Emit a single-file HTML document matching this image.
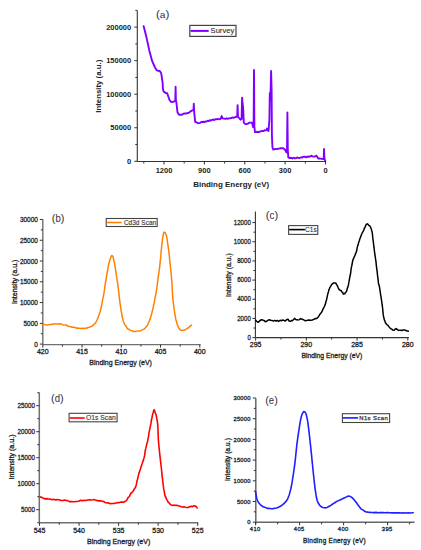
<!DOCTYPE html>
<html><head><meta charset="utf-8"><style>
html,body{margin:0;padding:0;background:#fff;}
svg{display:block;font-family:"Liberation Sans", sans-serif;}
</style></head><body>
<svg width="421" height="550" viewBox="0 0 421 550">
<rect x="0" y="0" width="421" height="550" fill="#fff"/>
<line x1="137.30" y1="10.50" x2="137.30" y2="161.50" stroke="#333" stroke-width="1.1"/>
<line x1="137.30" y1="161.50" x2="326.20" y2="161.50" stroke="#333" stroke-width="1.1"/>
<line x1="134.30" y1="161.30" x2="137.30" y2="161.30" stroke="#333" stroke-width="1"/>
<line x1="134.30" y1="127.75" x2="137.30" y2="127.75" stroke="#333" stroke-width="1"/>
<line x1="134.30" y1="94.20" x2="137.30" y2="94.20" stroke="#333" stroke-width="1"/>
<line x1="134.30" y1="60.65" x2="137.30" y2="60.65" stroke="#333" stroke-width="1"/>
<line x1="134.30" y1="27.10" x2="137.30" y2="27.10" stroke="#333" stroke-width="1"/>
<line x1="135.30" y1="144.53" x2="137.30" y2="144.53" stroke="#333" stroke-width="1"/>
<line x1="135.30" y1="110.98" x2="137.30" y2="110.98" stroke="#333" stroke-width="1"/>
<line x1="135.30" y1="77.43" x2="137.30" y2="77.43" stroke="#333" stroke-width="1"/>
<line x1="135.30" y1="43.88" x2="137.30" y2="43.88" stroke="#333" stroke-width="1"/>
<line x1="135.30" y1="10.33" x2="137.30" y2="10.33" stroke="#333" stroke-width="1"/>
<line x1="325.50" y1="161.50" x2="325.50" y2="164.50" stroke="#333" stroke-width="1"/>
<line x1="285.13" y1="161.50" x2="285.13" y2="164.50" stroke="#333" stroke-width="1"/>
<line x1="244.75" y1="161.50" x2="244.75" y2="164.50" stroke="#333" stroke-width="1"/>
<line x1="204.38" y1="161.50" x2="204.38" y2="164.50" stroke="#333" stroke-width="1"/>
<line x1="164.00" y1="161.50" x2="164.00" y2="164.50" stroke="#333" stroke-width="1"/>
<line x1="305.31" y1="161.50" x2="305.31" y2="163.50" stroke="#333" stroke-width="1"/>
<line x1="264.94" y1="161.50" x2="264.94" y2="163.50" stroke="#333" stroke-width="1"/>
<line x1="224.56" y1="161.50" x2="224.56" y2="163.50" stroke="#333" stroke-width="1"/>
<line x1="184.19" y1="161.50" x2="184.19" y2="163.50" stroke="#333" stroke-width="1"/>
<line x1="143.82" y1="161.50" x2="143.82" y2="163.50" stroke="#333" stroke-width="1"/>
<text x="131.20" y="164.00" font-size="7.5" text-anchor="end" font-weight="bold" fill="#222">0</text>
<text x="131.20" y="130.45" font-size="7.5" text-anchor="end" font-weight="bold" fill="#222">50000</text>
<text x="131.20" y="96.90" font-size="7.5" text-anchor="end" font-weight="bold" fill="#222">100000</text>
<text x="131.20" y="63.35" font-size="7.5" text-anchor="end" font-weight="bold" fill="#222">150000</text>
<text x="131.20" y="29.80" font-size="7.5" text-anchor="end" font-weight="bold" fill="#222">200000</text>
<text x="325.50" y="173.00" font-size="7.5" text-anchor="middle" font-weight="bold" fill="#222">0</text>
<text x="285.13" y="173.00" font-size="7.5" text-anchor="middle" font-weight="bold" fill="#222">300</text>
<text x="244.75" y="173.00" font-size="7.5" text-anchor="middle" font-weight="bold" fill="#222">600</text>
<text x="204.38" y="173.00" font-size="7.5" text-anchor="middle" font-weight="bold" fill="#222">900</text>
<text x="164.00" y="173.00" font-size="7.5" text-anchor="middle" font-weight="bold" fill="#222">1200</text>
<text x="231.20" y="186.70" font-size="7.8" text-anchor="middle" font-weight="bold" fill="#222" textLength="76.00" lengthAdjust="spacingAndGlyphs">Binding Energy (eV)</text>
<text x="101.20" y="86.20" font-size="7.8" text-anchor="middle" font-weight="bold" fill="#222" textLength="53.00" lengthAdjust="spacingAndGlyphs" transform="rotate(-90 101.20 86.20)">Intensity (a.u.)</text>
<text x="156.00" y="18.30" font-size="11.2" fill="#30303c" textLength="13.40" lengthAdjust="spacingAndGlyphs">(<tspan font-size="9.8">a</tspan>)</text>
<rect x="189.8" y="25.4" width="46.2" height="11" fill="#fff" stroke="#444" stroke-width="1.2"/>
<line x1="190.50" y1="30.90" x2="208.70" y2="30.90" stroke="#8000ff" stroke-width="2"/>
<text x="210.60" y="33.20" font-size="7.6" text-anchor="start" font-weight="normal" fill="#333" stroke="#333" stroke-width="0.12" textLength="23.60" lengthAdjust="spacingAndGlyphs">Survey</text>
<polyline points="143.60,26.10 146.40,37.10 149.30,50.40 152.10,60.90 155.00,67.50 156.90,70.40 158.30,70.81 159.70,71.00 161.20,73.20 162.60,82.70 162.90,88.60 163.50,91.30 164.80,92.40 166.00,93.07 167.20,93.30 169.50,100.00 171.00,101.90 172.10,101.97 173.20,101.90 174.30,101.30 175.30,100.50 175.60,86.70 175.90,100.90 176.20,101.00 177.50,112.30 179.00,114.80 180.27,114.82 181.53,114.78 182.80,114.20 183.92,113.46 185.03,113.54 186.15,113.65 187.27,113.07 188.38,112.98 189.50,112.30 190.43,111.32 191.37,111.01 192.30,110.40 193.50,110.00 193.80,103.80 194.20,112.30 195.20,121.80 196.60,122.32 198.00,123.30 199.09,123.07 200.17,122.82 201.26,122.05 202.34,121.96 203.43,121.74 204.51,122.05 205.60,121.40 206.68,121.43 207.76,120.67 208.84,121.04 209.92,120.23 211.00,120.46 212.08,119.80 213.16,119.48 214.24,120.05 215.32,119.25 216.40,119.30 217.80,118.88 219.20,119.40 220.60,118.80 221.70,116.10 222.60,118.40 224.00,118.60 225.20,118.88 226.40,118.29 227.60,118.84 228.80,118.40 230.00,118.30 231.16,118.16 232.32,117.43 233.48,117.80 234.64,117.27 235.80,116.80 237.20,116.50 237.60,105.10 238.00,117.00 238.70,117.50 240.50,119.70 241.60,119.00 242.10,97.60 242.60,104.00 243.10,106.60 243.80,122.60 245.30,124.10 246.58,124.14 247.85,123.70 249.12,122.79 250.40,122.60 252.10,122.60 253.00,127.00 253.60,127.00 254.00,69.90 254.40,127.00 255.00,132.10 256.37,131.98 257.73,131.80 259.10,132.10 260.24,131.47 261.39,131.08 262.53,130.98 263.67,130.94 264.81,130.08 265.96,130.37 267.10,129.90 267.00,128.40 268.50,131.00 269.40,120.00 269.80,93.00 270.40,100.00 271.10,70.90 271.60,90.00 271.90,135.00 272.20,142.00 272.50,147.70 273.30,149.60 274.55,149.20 275.80,148.93 277.05,149.14 278.30,148.60 279.55,148.48 280.80,148.23 282.05,148.28 283.30,148.20 284.15,149.08 285.00,149.60 286.30,152.40 287.00,152.50 287.40,112.50 287.80,150.00 288.30,157.40 289.90,158.20 291.10,157.76 292.30,158.54 293.50,157.64 294.70,158.25 295.90,158.30 297.10,157.51 298.30,157.90 299.46,158.02 300.62,157.50 301.78,157.55 302.94,156.90 304.10,156.79 305.26,156.77 306.42,157.33 307.58,156.51 308.74,156.87 309.90,156.50 311.20,155.70 312.43,156.35 313.67,156.63 314.90,156.50 316.50,155.70 318.20,158.50 319.45,158.48 320.70,158.62 321.95,158.90 323.20,159.00 323.70,159.00 324.00,149.00 324.50,159.00 325.20,160.70" fill="none" stroke="#8000ff" stroke-width="1.9" stroke-linejoin="round" stroke-linecap="round"/>
<line x1="42.80" y1="219.30" x2="42.80" y2="344.60" stroke="#707070" stroke-width="1.4"/>
<line x1="42.80" y1="344.60" x2="200.60" y2="344.60" stroke="#707070" stroke-width="1.4"/>
<line x1="39.80" y1="344.10" x2="42.80" y2="344.10" stroke="#333" stroke-width="1"/>
<line x1="39.80" y1="323.33" x2="42.80" y2="323.33" stroke="#333" stroke-width="1"/>
<line x1="39.80" y1="302.56" x2="42.80" y2="302.56" stroke="#333" stroke-width="1"/>
<line x1="39.80" y1="281.79" x2="42.80" y2="281.79" stroke="#333" stroke-width="1"/>
<line x1="39.80" y1="261.02" x2="42.80" y2="261.02" stroke="#333" stroke-width="1"/>
<line x1="39.80" y1="240.25" x2="42.80" y2="240.25" stroke="#333" stroke-width="1"/>
<line x1="39.80" y1="219.48" x2="42.80" y2="219.48" stroke="#333" stroke-width="1"/>
<line x1="40.80" y1="333.72" x2="42.80" y2="333.72" stroke="#333" stroke-width="1"/>
<line x1="40.80" y1="312.95" x2="42.80" y2="312.95" stroke="#333" stroke-width="1"/>
<line x1="40.80" y1="292.18" x2="42.80" y2="292.18" stroke="#333" stroke-width="1"/>
<line x1="40.80" y1="271.41" x2="42.80" y2="271.41" stroke="#333" stroke-width="1"/>
<line x1="40.80" y1="250.64" x2="42.80" y2="250.64" stroke="#333" stroke-width="1"/>
<line x1="40.80" y1="229.87" x2="42.80" y2="229.87" stroke="#333" stroke-width="1"/>
<line x1="42.80" y1="344.60" x2="42.80" y2="347.60" stroke="#333" stroke-width="1"/>
<line x1="82.05" y1="344.60" x2="82.05" y2="347.60" stroke="#333" stroke-width="1"/>
<line x1="121.30" y1="344.60" x2="121.30" y2="347.60" stroke="#333" stroke-width="1"/>
<line x1="160.55" y1="344.60" x2="160.55" y2="347.60" stroke="#333" stroke-width="1"/>
<line x1="199.80" y1="344.60" x2="199.80" y2="347.60" stroke="#333" stroke-width="1"/>
<line x1="62.42" y1="344.60" x2="62.42" y2="346.60" stroke="#333" stroke-width="1"/>
<line x1="101.67" y1="344.60" x2="101.67" y2="346.60" stroke="#333" stroke-width="1"/>
<line x1="140.93" y1="344.60" x2="140.93" y2="346.60" stroke="#333" stroke-width="1"/>
<line x1="180.18" y1="344.60" x2="180.18" y2="346.60" stroke="#333" stroke-width="1"/>
<text x="37.90" y="346.80" font-size="7.5" text-anchor="end" font-weight="normal" fill="#222" stroke="#222" stroke-width="0.3" textLength="3.60" lengthAdjust="spacingAndGlyphs">0</text>
<text x="37.90" y="326.03" font-size="7.5" text-anchor="end" font-weight="normal" fill="#222" stroke="#222" stroke-width="0.3" textLength="14.40" lengthAdjust="spacingAndGlyphs">5000</text>
<text x="37.90" y="305.26" font-size="7.5" text-anchor="end" font-weight="normal" fill="#222" stroke="#222" stroke-width="0.3" textLength="18.00" lengthAdjust="spacingAndGlyphs">10000</text>
<text x="37.90" y="284.49" font-size="7.5" text-anchor="end" font-weight="normal" fill="#222" stroke="#222" stroke-width="0.3" textLength="18.00" lengthAdjust="spacingAndGlyphs">15000</text>
<text x="37.90" y="263.72" font-size="7.5" text-anchor="end" font-weight="normal" fill="#222" stroke="#222" stroke-width="0.3" textLength="18.00" lengthAdjust="spacingAndGlyphs">20000</text>
<text x="37.90" y="242.95" font-size="7.5" text-anchor="end" font-weight="normal" fill="#222" stroke="#222" stroke-width="0.3" textLength="18.00" lengthAdjust="spacingAndGlyphs">25000</text>
<text x="37.90" y="222.18" font-size="7.5" text-anchor="end" font-weight="normal" fill="#222" stroke="#222" stroke-width="0.3" textLength="18.00" lengthAdjust="spacingAndGlyphs">30000</text>
<text x="42.80" y="353.50" font-size="7.5" text-anchor="middle" font-weight="normal" fill="#222" stroke="#222" stroke-width="0.3" textLength="11.70" lengthAdjust="spacingAndGlyphs">420</text>
<text x="82.05" y="353.50" font-size="7.5" text-anchor="middle" font-weight="normal" fill="#222" stroke="#222" stroke-width="0.3" textLength="11.70" lengthAdjust="spacingAndGlyphs">415</text>
<text x="121.30" y="353.50" font-size="7.5" text-anchor="middle" font-weight="normal" fill="#222" stroke="#222" stroke-width="0.3" textLength="11.70" lengthAdjust="spacingAndGlyphs">410</text>
<text x="160.55" y="353.50" font-size="7.5" text-anchor="middle" font-weight="normal" fill="#222" stroke="#222" stroke-width="0.3" textLength="11.70" lengthAdjust="spacingAndGlyphs">405</text>
<text x="199.80" y="353.50" font-size="7.5" text-anchor="middle" font-weight="normal" fill="#222" stroke="#222" stroke-width="0.3" textLength="11.70" lengthAdjust="spacingAndGlyphs">400</text>
<text x="120.60" y="365.30" font-size="7.5" text-anchor="middle" font-weight="normal" fill="#222" stroke="#222" stroke-width="0.3" textLength="62.60" lengthAdjust="spacingAndGlyphs">Binding Energy (eV)</text>
<text x="17.40" y="281.80" font-size="7.2" text-anchor="middle" font-weight="normal" fill="#222" stroke="#222" stroke-width="0.3" textLength="44.40" lengthAdjust="spacingAndGlyphs" transform="rotate(-90 17.40 281.80)">Intensity (a.u.)</text>
<text x="51.80" y="221.80" font-size="11.8" fill="#30303c" textLength="12.60" lengthAdjust="spacingAndGlyphs">(<tspan font-size="10.4">b</tspan>)</text>
<rect x="106.2" y="218.5" width="51" height="8" fill="#fff" stroke="#444" stroke-width="1.1"/>
<line x1="106.80" y1="222.50" x2="121.60" y2="222.50" stroke="#ff8000" stroke-width="1.6"/>
<text x="123.90" y="225.00" font-size="7" text-anchor="start" font-weight="normal" fill="#333" stroke="#333" stroke-width="0.12" textLength="32.30" lengthAdjust="spacingAndGlyphs">Cd3d Scan</text>
<polyline points="42.90,324.20 44.23,324.48 45.57,324.80 47.28,325.09 48.62,324.66 49.93,324.57 51.64,324.42 53.00,323.98 54.55,324.02 56.15,323.93 57.52,324.02 58.97,323.73 60.35,324.11 61.73,324.14 63.17,324.89 64.69,325.12 66.00,324.98 67.60,326.06 69.33,326.52 70.89,326.75 72.23,327.16 73.54,327.24 74.98,327.50 76.50,328.18 78.00,328.09 79.44,328.33 80.86,328.43 82.27,328.25 83.64,328.46 85.03,328.25 86.49,328.21 88.02,327.56 89.40,327.20 90.81,326.59 92.00,326.11 93.14,325.18 94.20,324.04 95.22,323.27 95.96,322.15 96.67,320.77 97.36,319.24 98.00,317.47 98.59,315.91 99.15,314.41 99.67,312.69 100.12,311.77 100.61,309.73 101.01,308.27 101.49,305.59 101.75,304.70 102.01,303.31 102.25,301.43 102.70,299.30 103.07,297.98 103.40,296.13 103.70,294.99 104.00,292.93 104.27,290.89 104.52,289.40 104.78,287.50 105.10,284.94 105.51,282.26 105.75,281.03 105.99,280.04 106.23,278.47 106.47,276.64 106.69,275.42 107.09,273.02 107.43,270.97 107.75,269.66 108.05,267.56 108.35,266.30 108.61,264.89 109.01,262.94 109.46,261.56 109.97,259.31 110.52,258.04 111.08,256.42 111.84,255.45 112.82,256.29 113.25,257.81 113.69,259.85 114.11,261.45 114.42,262.67 114.80,265.27 115.03,266.22 115.27,267.91 115.51,269.88 115.76,271.38 115.99,272.60 116.21,274.68 116.56,276.46 116.84,278.27 117.07,280.09 117.29,281.16 117.51,282.56 117.79,284.25 117.98,285.57 118.20,287.56 118.46,289.47 118.74,292.22 118.88,293.35 119.17,295.92 119.43,298.50 119.68,300.21 119.92,302.22 120.17,304.32 120.43,305.71 120.70,307.53 120.98,309.85 121.26,311.50 121.54,312.73 121.83,314.23 122.13,316.09 122.44,317.63 122.76,318.45 123.09,320.25 123.62,321.98 124.20,323.38 124.86,324.65 125.56,325.65 126.43,326.97 127.44,328.74 128.71,329.12 130.39,330.36 132.10,330.73 133.67,331.47 135.25,331.40 137.02,331.12 138.36,330.94 139.74,331.13 141.08,330.34 142.30,329.91 143.47,329.35 144.58,328.64 145.57,327.53 146.72,326.01 147.55,325.22 148.30,323.29 149.09,321.44 149.59,320.35 150.07,319.15 150.53,317.50 150.97,316.13 151.39,314.76 151.80,313.35 152.20,311.43 152.59,309.89 152.96,308.51 153.32,306.86 153.67,305.01 154.01,303.49 154.33,301.89 154.64,300.04 154.96,298.34 155.28,296.56 155.59,295.41 155.87,293.64 156.11,292.54 156.44,290.26 156.70,289.10 156.93,287.28 157.19,285.42 157.45,282.99 157.70,281.45 157.93,278.97 158.15,277.52 158.37,275.91 158.60,274.28 158.84,272.56 159.07,271.04 159.33,269.43 159.60,267.39 159.75,265.69 159.90,264.46 160.07,263.05 160.23,261.38 160.40,259.37 160.57,257.92 160.74,256.29 160.90,254.45 161.06,252.85 161.23,250.98 161.40,249.39 161.57,247.69 161.73,245.66 161.90,244.46 162.05,243.25 162.20,241.87 162.47,239.60 162.71,237.64 162.95,236.45 163.20,235.06 163.61,233.18 164.02,232.15 165.12,232.51 165.81,234.30 166.42,235.32 166.81,237.69 167.03,238.94 167.27,240.29 167.52,242.28 167.77,243.89 168.02,245.78 168.27,247.81 168.50,249.13 168.72,250.74 168.94,252.79 169.16,254.94 169.38,256.54 169.59,258.46 169.79,260.92 170.00,262.69 170.20,264.46 170.40,266.67 170.60,268.15 170.80,270.26 170.99,271.81 171.18,273.86 171.36,276.05 171.54,278.08 171.70,280.07 171.85,281.84 171.98,284.23 172.11,286.36 172.22,288.56 172.34,291.10 172.45,293.52 172.57,295.55 172.70,297.25 172.83,298.98 172.97,299.89 173.24,302.17 173.52,304.42 173.80,306.34 174.07,308.38 174.34,310.50 174.62,312.52 174.90,314.20 175.19,315.74 175.49,317.68 175.79,319.26 176.10,320.27 176.41,321.29 176.89,323.01 177.40,325.16 177.97,325.97 178.58,327.64 179.39,328.89 180.21,329.74 181.58,330.61 182.99,330.15 184.50,329.95 186.10,329.33 187.21,328.26 188.70,327.73 189.98,326.36 191.03,325.43 191.50,325.30" fill="none" stroke="#ff8000" stroke-width="1.5" stroke-linejoin="round" stroke-linecap="round"/>
<line x1="255.40" y1="211.40" x2="255.40" y2="337.60" stroke="#333" stroke-width="1.1"/>
<line x1="255.40" y1="337.60" x2="408.80" y2="337.60" stroke="#333" stroke-width="1.1"/>
<line x1="252.40" y1="337.60" x2="255.40" y2="337.60" stroke="#333" stroke-width="1"/>
<line x1="252.40" y1="318.43" x2="255.40" y2="318.43" stroke="#333" stroke-width="1"/>
<line x1="252.40" y1="299.26" x2="255.40" y2="299.26" stroke="#333" stroke-width="1"/>
<line x1="252.40" y1="280.09" x2="255.40" y2="280.09" stroke="#333" stroke-width="1"/>
<line x1="252.40" y1="260.92" x2="255.40" y2="260.92" stroke="#333" stroke-width="1"/>
<line x1="252.40" y1="241.75" x2="255.40" y2="241.75" stroke="#333" stroke-width="1"/>
<line x1="252.40" y1="222.58" x2="255.40" y2="222.58" stroke="#333" stroke-width="1"/>
<line x1="253.40" y1="328.02" x2="255.40" y2="328.02" stroke="#333" stroke-width="1"/>
<line x1="253.40" y1="308.85" x2="255.40" y2="308.85" stroke="#333" stroke-width="1"/>
<line x1="253.40" y1="289.68" x2="255.40" y2="289.68" stroke="#333" stroke-width="1"/>
<line x1="253.40" y1="270.50" x2="255.40" y2="270.50" stroke="#333" stroke-width="1"/>
<line x1="253.40" y1="251.34" x2="255.40" y2="251.34" stroke="#333" stroke-width="1"/>
<line x1="253.40" y1="232.17" x2="255.40" y2="232.17" stroke="#333" stroke-width="1"/>
<line x1="255.60" y1="337.60" x2="255.60" y2="340.60" stroke="#333" stroke-width="1"/>
<line x1="306.33" y1="337.60" x2="306.33" y2="340.60" stroke="#333" stroke-width="1"/>
<line x1="357.07" y1="337.60" x2="357.07" y2="340.60" stroke="#333" stroke-width="1"/>
<line x1="407.81" y1="337.60" x2="407.81" y2="340.60" stroke="#333" stroke-width="1"/>
<line x1="280.97" y1="337.60" x2="280.97" y2="339.60" stroke="#333" stroke-width="1"/>
<line x1="331.70" y1="337.60" x2="331.70" y2="339.60" stroke="#333" stroke-width="1"/>
<line x1="382.44" y1="337.60" x2="382.44" y2="339.60" stroke="#333" stroke-width="1"/>
<text x="250.80" y="339.70" font-size="7.5" text-anchor="end" font-weight="normal" fill="#222" stroke="#222" stroke-width="0.3" textLength="3.40" lengthAdjust="spacingAndGlyphs">0</text>
<text x="250.80" y="320.53" font-size="7.5" text-anchor="end" font-weight="normal" fill="#222" stroke="#222" stroke-width="0.3" textLength="13.60" lengthAdjust="spacingAndGlyphs">2000</text>
<text x="250.80" y="301.36" font-size="7.5" text-anchor="end" font-weight="normal" fill="#222" stroke="#222" stroke-width="0.3" textLength="13.60" lengthAdjust="spacingAndGlyphs">4000</text>
<text x="250.80" y="282.19" font-size="7.5" text-anchor="end" font-weight="normal" fill="#222" stroke="#222" stroke-width="0.3" textLength="13.60" lengthAdjust="spacingAndGlyphs">6000</text>
<text x="250.80" y="263.02" font-size="7.5" text-anchor="end" font-weight="normal" fill="#222" stroke="#222" stroke-width="0.3" textLength="13.60" lengthAdjust="spacingAndGlyphs">8000</text>
<text x="250.80" y="243.85" font-size="7.5" text-anchor="end" font-weight="normal" fill="#222" stroke="#222" stroke-width="0.3" textLength="17.00" lengthAdjust="spacingAndGlyphs">10000</text>
<text x="250.80" y="224.68" font-size="7.5" text-anchor="end" font-weight="normal" fill="#222" stroke="#222" stroke-width="0.3" textLength="17.00" lengthAdjust="spacingAndGlyphs">12000</text>
<text x="255.60" y="346.50" font-size="7.5" text-anchor="middle" font-weight="normal" fill="#222" stroke="#222" stroke-width="0.3" textLength="11.70" lengthAdjust="spacingAndGlyphs">295</text>
<text x="306.33" y="346.50" font-size="7.5" text-anchor="middle" font-weight="normal" fill="#222" stroke="#222" stroke-width="0.3" textLength="11.70" lengthAdjust="spacingAndGlyphs">290</text>
<text x="357.07" y="346.50" font-size="7.5" text-anchor="middle" font-weight="normal" fill="#222" stroke="#222" stroke-width="0.3" textLength="11.70" lengthAdjust="spacingAndGlyphs">285</text>
<text x="407.81" y="346.50" font-size="7.5" text-anchor="middle" font-weight="normal" fill="#222" stroke="#222" stroke-width="0.3" textLength="11.70" lengthAdjust="spacingAndGlyphs">280</text>
<text x="331.90" y="357.50" font-size="7.5" text-anchor="middle" font-weight="normal" fill="#222" stroke="#222" stroke-width="0.3" textLength="61.00" lengthAdjust="spacingAndGlyphs">Binding Energy (eV)</text>
<text x="230.70" y="275.10" font-size="7.2" text-anchor="middle" font-weight="normal" fill="#222" stroke="#222" stroke-width="0.3" textLength="43.60" lengthAdjust="spacingAndGlyphs" transform="rotate(-90 230.70 275.10)">Intensity (a.u.)</text>
<text x="265.80" y="218.70" font-size="11.8" fill="#30303c" textLength="12.40" lengthAdjust="spacingAndGlyphs">(<tspan font-size="10.4">c</tspan>)</text>
<rect x="288.6" y="225.6" width="29.2" height="8.8" fill="#fff" stroke="#444" stroke-width="1.1"/>
<line x1="289.20" y1="229.60" x2="304.90" y2="229.60" stroke="#000" stroke-width="1.6"/>
<text x="305.00" y="232.40" font-size="7" text-anchor="start" font-weight="normal" fill="#333" stroke="#333" stroke-width="0.12" textLength="11.70" lengthAdjust="spacingAndGlyphs">C1s</text>
<polyline points="255.70,320.20 256.61,321.21 257.80,322.27 259.13,321.49 260.32,320.19 261.72,319.69 263.15,320.15 264.21,320.63 265.31,321.72 266.53,321.32 267.85,320.35 269.20,319.76 270.58,320.26 271.96,320.43 273.18,321.05 274.51,320.35 275.85,320.97 277.27,320.45 278.50,321.45 280.11,320.34 281.28,320.70 282.80,320.02 283.99,320.41 285.32,321.10 286.72,319.45 288.14,319.32 289.15,321.10 290.21,321.38 291.47,320.51 292.43,320.65 293.37,319.76 294.55,318.37 295.72,319.53 296.76,319.86 298.21,319.88 299.49,319.63 300.57,318.54 301.98,319.31 303.00,319.47 304.20,320.24 305.75,320.92 307.48,320.15 309.13,319.99 310.71,320.21 312.27,319.99 313.88,319.41 314.99,318.54 316.07,318.69 317.10,318.21 318.07,317.31 318.99,315.90 319.87,314.41 320.70,313.25 321.47,312.45 322.19,311.23 322.86,309.37 323.50,308.21 324.11,306.98 324.69,305.71 325.22,304.58 325.70,302.80 326.11,300.86 326.45,300.30 326.77,298.45 327.10,297.12 327.44,295.34 327.78,294.08 328.13,292.60 328.50,291.70 328.90,289.75 329.32,289.11 329.98,287.19 330.65,286.52 331.59,284.54 332.67,283.68 333.59,282.95 334.79,283.02 335.96,283.29 336.80,284.86 337.58,286.19 338.08,287.51 338.80,289.17 339.93,290.16 341.07,290.42 341.80,292.01 342.50,292.13 343.34,294.15 344.70,293.73 345.51,292.52 346.30,291.67 346.79,290.70 347.28,288.37 347.74,287.14 348.20,286.00 348.65,283.54 349.10,281.20 349.52,278.67 349.90,276.59 350.23,275.27 350.52,273.76 350.77,272.04 351.00,270.00 351.23,268.04 351.49,266.87 351.73,266.14 352.00,264.62 352.34,262.67 352.75,260.45 353.29,259.11 353.97,257.44 354.73,255.97 355.47,253.85 356.11,252.72 356.68,250.56 357.22,247.59 357.74,245.64 358.26,244.38 358.78,241.93 359.29,240.98 359.77,238.99 360.21,237.93 360.77,236.61 361.36,234.81 361.87,233.76 362.48,232.36 363.14,231.37 363.80,229.97 364.39,228.06 364.97,227.59 365.53,225.86 366.30,224.32 367.46,223.85 368.78,225.27 369.74,225.85 370.54,227.16 371.19,228.85 371.73,230.61 372.05,231.85 372.31,233.17 372.54,235.26 372.77,237.66 373.04,239.74 373.32,241.88 373.46,242.88 373.61,244.18 373.77,245.89 373.93,247.03 374.10,247.77 374.28,249.92 374.48,251.57 374.69,252.93 374.90,254.54 375.11,256.05 375.32,257.11 375.52,258.83 375.70,259.77 375.87,260.80 376.03,262.39 376.19,263.64 376.34,265.58 376.48,266.55 376.62,267.60 376.90,270.03 377.17,271.74 377.43,274.35 377.68,276.56 377.90,278.08 378.09,279.59 378.25,281.28 378.41,282.56 378.60,284.20 378.93,284.88 379.30,285.98 379.60,287.59 379.96,290.20 380.17,291.59 380.38,292.89 380.60,294.65 380.81,295.47 381.01,296.49 381.20,298.29 381.38,299.44 381.72,301.46 382.05,304.23 382.35,306.09 382.63,308.28 382.75,309.58 382.85,311.48 382.96,311.66 383.19,314.38 383.50,316.36 383.90,318.03 384.36,319.81 384.89,320.94 385.50,322.96 386.21,323.63 387.02,324.84 387.86,325.15 388.70,326.36 389.56,327.42 390.44,328.58 391.66,329.05 392.75,330.11 394.13,330.36 395.01,329.24 396.29,328.61 397.52,329.80 398.81,330.38 400.41,330.17 401.80,330.49 402.93,330.00 404.27,330.02 405.43,330.23 406.74,330.88 408.09,330.97 408.30,331.20" fill="none" stroke="#000" stroke-width="1.5" stroke-linejoin="round" stroke-linecap="round"/>
<line x1="39.30" y1="392.60" x2="39.30" y2="522.80" stroke="#707070" stroke-width="1.5"/>
<line x1="39.30" y1="522.80" x2="198.20" y2="522.80" stroke="#707070" stroke-width="1.5"/>
<line x1="36.30" y1="509.70" x2="39.30" y2="509.70" stroke="#333" stroke-width="1"/>
<line x1="36.30" y1="483.70" x2="39.30" y2="483.70" stroke="#333" stroke-width="1"/>
<line x1="36.30" y1="457.70" x2="39.30" y2="457.70" stroke="#333" stroke-width="1"/>
<line x1="36.30" y1="431.70" x2="39.30" y2="431.70" stroke="#333" stroke-width="1"/>
<line x1="36.30" y1="405.70" x2="39.30" y2="405.70" stroke="#333" stroke-width="1"/>
<line x1="37.30" y1="522.70" x2="39.30" y2="522.70" stroke="#333" stroke-width="1"/>
<line x1="37.30" y1="496.70" x2="39.30" y2="496.70" stroke="#333" stroke-width="1"/>
<line x1="37.30" y1="470.70" x2="39.30" y2="470.70" stroke="#333" stroke-width="1"/>
<line x1="37.30" y1="444.70" x2="39.30" y2="444.70" stroke="#333" stroke-width="1"/>
<line x1="37.30" y1="418.70" x2="39.30" y2="418.70" stroke="#333" stroke-width="1"/>
<line x1="37.30" y1="392.70" x2="39.30" y2="392.70" stroke="#333" stroke-width="1"/>
<line x1="39.50" y1="522.80" x2="39.50" y2="525.80" stroke="#333" stroke-width="1"/>
<line x1="79.05" y1="522.80" x2="79.05" y2="525.80" stroke="#333" stroke-width="1"/>
<line x1="118.60" y1="522.80" x2="118.60" y2="525.80" stroke="#333" stroke-width="1"/>
<line x1="158.15" y1="522.80" x2="158.15" y2="525.80" stroke="#333" stroke-width="1"/>
<line x1="197.70" y1="522.80" x2="197.70" y2="525.80" stroke="#333" stroke-width="1"/>
<line x1="59.27" y1="522.80" x2="59.27" y2="524.80" stroke="#333" stroke-width="1"/>
<line x1="98.83" y1="522.80" x2="98.83" y2="524.80" stroke="#333" stroke-width="1"/>
<line x1="138.38" y1="522.80" x2="138.38" y2="524.80" stroke="#333" stroke-width="1"/>
<line x1="177.93" y1="522.80" x2="177.93" y2="524.80" stroke="#333" stroke-width="1"/>
<text x="35.00" y="512.40" font-size="7.5" text-anchor="end" font-weight="normal" fill="#222" stroke="#222" stroke-width="0.3" textLength="14.00" lengthAdjust="spacingAndGlyphs">5000</text>
<text x="35.00" y="486.40" font-size="7.5" text-anchor="end" font-weight="normal" fill="#222" stroke="#222" stroke-width="0.3" textLength="17.50" lengthAdjust="spacingAndGlyphs">10000</text>
<text x="35.00" y="460.40" font-size="7.5" text-anchor="end" font-weight="normal" fill="#222" stroke="#222" stroke-width="0.3" textLength="17.50" lengthAdjust="spacingAndGlyphs">15000</text>
<text x="35.00" y="434.40" font-size="7.5" text-anchor="end" font-weight="normal" fill="#222" stroke="#222" stroke-width="0.3" textLength="17.50" lengthAdjust="spacingAndGlyphs">20000</text>
<text x="35.00" y="408.40" font-size="7.5" text-anchor="end" font-weight="normal" fill="#222" stroke="#222" stroke-width="0.3" textLength="17.50" lengthAdjust="spacingAndGlyphs">25000</text>
<text x="39.50" y="532.60" font-size="7.5" text-anchor="middle" font-weight="normal" fill="#222" stroke="#222" stroke-width="0.3" textLength="11.70" lengthAdjust="spacingAndGlyphs">545</text>
<text x="79.05" y="532.60" font-size="7.5" text-anchor="middle" font-weight="normal" fill="#222" stroke="#222" stroke-width="0.3" textLength="11.70" lengthAdjust="spacingAndGlyphs">540</text>
<text x="118.60" y="532.60" font-size="7.5" text-anchor="middle" font-weight="normal" fill="#222" stroke="#222" stroke-width="0.3" textLength="11.70" lengthAdjust="spacingAndGlyphs">535</text>
<text x="158.15" y="532.60" font-size="7.5" text-anchor="middle" font-weight="normal" fill="#222" stroke="#222" stroke-width="0.3" textLength="11.70" lengthAdjust="spacingAndGlyphs">530</text>
<text x="197.70" y="532.60" font-size="7.5" text-anchor="middle" font-weight="normal" fill="#222" stroke="#222" stroke-width="0.3" textLength="11.70" lengthAdjust="spacingAndGlyphs">525</text>
<text x="118.70" y="543.50" font-size="7.5" text-anchor="middle" font-weight="normal" fill="#222" stroke="#222" stroke-width="0.3" textLength="63.20" lengthAdjust="spacingAndGlyphs">Binding Energy (eV)</text>
<text x="13.60" y="457.00" font-size="7.2" text-anchor="middle" font-weight="normal" fill="#222" stroke="#222" stroke-width="0.3" textLength="45.00" lengthAdjust="spacingAndGlyphs" transform="rotate(-90 13.60 457.00)">Intensity (a.u.)</text>
<text x="51.00" y="401.80" font-size="11.8" fill="#30303c" textLength="12.60" lengthAdjust="spacingAndGlyphs">(<tspan font-size="10.4">d</tspan>)</text>
<rect x="69.1" y="413.3" width="48" height="8.5" fill="#fff" stroke="#444" stroke-width="1.1"/>
<line x1="69.70" y1="418.00" x2="84.70" y2="418.00" stroke="#ff0000" stroke-width="1.6"/>
<text x="85.90" y="419.60" font-size="7" text-anchor="start" font-weight="normal" fill="#333" stroke="#333" stroke-width="0.12" textLength="29.80" lengthAdjust="spacingAndGlyphs">O1s Scan</text>
<polyline points="40.20,497.10 41.46,497.17 42.84,498.12 44.13,498.60 45.30,499.08 46.64,498.63 48.00,498.90 49.31,498.95 50.64,499.13 52.11,499.80 53.71,499.29 55.41,499.89 57.23,499.66 58.52,499.81 59.82,500.03 61.10,500.57 62.86,500.52 64.63,500.11 66.00,500.55 67.65,500.59 69.49,501.58 71.34,501.67 73.00,501.74 74.40,501.71 75.66,501.49 77.41,501.46 79.14,501.09 80.76,500.31 82.50,500.78 83.78,500.29 85.13,500.51 86.54,500.23 88.00,500.02 89.60,499.90 91.32,499.94 92.98,499.79 94.40,499.58 95.96,500.42 97.17,500.52 98.45,500.89 99.82,500.77 101.11,500.87 102.52,501.48 103.70,501.28 105.01,502.49 106.30,502.74 107.94,502.89 109.22,503.21 110.45,503.77 111.96,503.51 113.23,503.51 114.50,503.42 115.87,502.99 117.25,502.51 118.51,502.73 120.05,502.23 121.25,502.09 122.50,501.96 123.92,502.20 125.00,501.33 125.87,501.00 126.86,500.00 127.86,497.92 128.80,496.94 129.64,496.01 130.44,493.90 131.21,492.91 132.00,492.54 132.83,491.53 133.68,490.31 134.49,488.71 135.20,487.70 135.77,486.65 136.23,484.93 136.66,482.99 137.10,480.47 137.57,479.27 138.05,476.73 138.53,475.14 139.00,472.70 139.47,472.05 139.95,470.24 140.43,469.02 140.90,467.08 141.38,466.09 141.87,464.60 142.35,463.18 142.80,461.55 143.24,460.66 143.66,459.02 144.05,457.73 144.40,456.23 144.68,455.29 144.91,453.05 145.13,451.53 145.40,449.73 145.75,448.70 146.15,446.90 146.55,445.26 146.90,443.29 147.30,442.30 147.64,441.01 147.90,439.55 148.21,437.70 148.54,436.67 148.88,433.53 149.20,431.78 149.51,430.16 149.81,429.13 150.10,427.20 150.40,426.17 150.70,424.40 151.01,423.17 151.31,420.53 151.60,419.32 151.85,418.11 152.08,417.37 152.32,415.68 152.77,413.86 153.14,412.73 153.54,411.07 154.10,409.68 154.88,411.26 155.30,412.95 155.79,414.11 156.16,415.04 156.46,417.00 156.83,418.98 157.21,420.46 157.39,422.04 157.56,423.10 157.70,424.42 157.82,426.08 157.91,427.80 157.99,429.90 158.06,431.59 158.13,434.05 158.21,435.75 158.29,438.45 158.40,440.11 158.52,441.15 158.65,443.60 158.79,444.50 158.94,446.33 159.09,447.92 159.25,449.22 159.42,450.77 159.60,452.63 159.79,454.09 159.99,456.74 160.20,457.82 160.42,460.54 160.64,461.84 160.86,463.90 161.08,465.95 161.30,467.49 161.51,469.54 161.73,471.79 161.95,473.90 162.16,476.38 162.38,478.47 162.59,479.33 162.80,481.67 163.00,482.89 163.20,485.19 163.38,486.14 163.57,488.16 163.75,489.09 163.93,489.87 164.30,491.96 164.70,494.11 165.13,496.25 165.56,496.62 166.20,498.48 166.80,499.64 167.60,500.92 168.41,502.61 169.27,502.97 170.36,504.50 171.60,504.98 173.13,505.46 174.35,505.05 175.65,505.58 176.98,505.26 178.45,505.71 179.96,506.12 181.37,506.71 182.56,507.10 183.96,506.78 185.29,507.17 186.95,507.50 188.20,507.49 189.45,506.81 191.13,506.18 192.62,506.62 193.98,505.81 195.24,506.00 196.40,506.83 197.20,508.00" fill="none" stroke="#ff0000" stroke-width="1.6" stroke-linejoin="round" stroke-linecap="round"/>
<line x1="255.80" y1="398.20" x2="255.80" y2="523.80" stroke="#666" stroke-width="1.5"/>
<line x1="255.80" y1="522.30" x2="414.60" y2="522.30" stroke="#666" stroke-width="1.5"/>
<line x1="252.80" y1="522.20" x2="255.80" y2="522.20" stroke="#333" stroke-width="1"/>
<line x1="252.80" y1="501.50" x2="255.80" y2="501.50" stroke="#333" stroke-width="1"/>
<line x1="252.80" y1="480.80" x2="255.80" y2="480.80" stroke="#333" stroke-width="1"/>
<line x1="252.80" y1="460.10" x2="255.80" y2="460.10" stroke="#333" stroke-width="1"/>
<line x1="252.80" y1="439.40" x2="255.80" y2="439.40" stroke="#333" stroke-width="1"/>
<line x1="252.80" y1="418.70" x2="255.80" y2="418.70" stroke="#333" stroke-width="1"/>
<line x1="252.80" y1="398.00" x2="255.80" y2="398.00" stroke="#333" stroke-width="1"/>
<line x1="253.80" y1="511.85" x2="255.80" y2="511.85" stroke="#333" stroke-width="1"/>
<line x1="253.80" y1="491.15" x2="255.80" y2="491.15" stroke="#333" stroke-width="1"/>
<line x1="253.80" y1="470.45" x2="255.80" y2="470.45" stroke="#333" stroke-width="1"/>
<line x1="253.80" y1="449.75" x2="255.80" y2="449.75" stroke="#333" stroke-width="1"/>
<line x1="253.80" y1="429.05" x2="255.80" y2="429.05" stroke="#333" stroke-width="1"/>
<line x1="253.80" y1="408.35" x2="255.80" y2="408.35" stroke="#333" stroke-width="1"/>
<line x1="255.60" y1="522.30" x2="255.60" y2="525.30" stroke="#333" stroke-width="1"/>
<line x1="299.60" y1="522.30" x2="299.60" y2="525.30" stroke="#333" stroke-width="1"/>
<line x1="343.60" y1="522.30" x2="343.60" y2="525.30" stroke="#333" stroke-width="1"/>
<line x1="387.60" y1="522.30" x2="387.60" y2="525.30" stroke="#333" stroke-width="1"/>
<line x1="277.60" y1="522.30" x2="277.60" y2="524.30" stroke="#333" stroke-width="1"/>
<line x1="321.60" y1="522.30" x2="321.60" y2="524.30" stroke="#333" stroke-width="1"/>
<line x1="365.60" y1="522.30" x2="365.60" y2="524.30" stroke="#333" stroke-width="1"/>
<line x1="409.60" y1="522.30" x2="409.60" y2="524.30" stroke="#333" stroke-width="1"/>
<text x="250.40" y="524.30" font-size="5.8" text-anchor="end" font-weight="normal" fill="#222" stroke="#222" stroke-width="0.3" textLength="3.38" lengthAdjust="spacing">0</text>
<text x="250.40" y="503.60" font-size="5.8" text-anchor="end" font-weight="normal" fill="#222" stroke="#222" stroke-width="0.3" textLength="13.52" lengthAdjust="spacing">5000</text>
<text x="250.40" y="482.90" font-size="5.8" text-anchor="end" font-weight="normal" fill="#222" stroke="#222" stroke-width="0.3" textLength="16.90" lengthAdjust="spacing">10000</text>
<text x="250.40" y="462.20" font-size="5.8" text-anchor="end" font-weight="normal" fill="#222" stroke="#222" stroke-width="0.3" textLength="16.90" lengthAdjust="spacing">15000</text>
<text x="250.40" y="441.50" font-size="5.8" text-anchor="end" font-weight="normal" fill="#222" stroke="#222" stroke-width="0.3" textLength="16.90" lengthAdjust="spacing">20000</text>
<text x="250.40" y="420.80" font-size="5.8" text-anchor="end" font-weight="normal" fill="#222" stroke="#222" stroke-width="0.3" textLength="16.90" lengthAdjust="spacing">25000</text>
<text x="250.40" y="400.10" font-size="5.8" text-anchor="end" font-weight="normal" fill="#222" stroke="#222" stroke-width="0.3" textLength="16.90" lengthAdjust="spacing">30000</text>
<text x="255.00" y="530.80" font-size="5.8" text-anchor="middle" font-weight="normal" fill="#222" stroke="#222" stroke-width="0.3" textLength="10.35" lengthAdjust="spacing">410</text>
<text x="299.00" y="530.80" font-size="5.8" text-anchor="middle" font-weight="normal" fill="#222" stroke="#222" stroke-width="0.3" textLength="10.35" lengthAdjust="spacing">405</text>
<text x="343.00" y="530.80" font-size="5.8" text-anchor="middle" font-weight="normal" fill="#222" stroke="#222" stroke-width="0.3" textLength="10.35" lengthAdjust="spacing">400</text>
<text x="387.00" y="530.80" font-size="5.8" text-anchor="middle" font-weight="normal" fill="#222" stroke="#222" stroke-width="0.3" textLength="10.35" lengthAdjust="spacing">395</text>
<text x="334.40" y="543.40" font-size="6.4" text-anchor="middle" font-weight="normal" fill="#222" stroke="#222" stroke-width="0.3" textLength="62.70" lengthAdjust="spacing">Binding Energy (eV)</text>
<text x="230.30" y="459.60" font-size="6.4" text-anchor="middle" font-weight="normal" fill="#222" stroke="#222" stroke-width="0.3" textLength="43.00" lengthAdjust="spacing" transform="rotate(-90 230.30 459.60)">Intensity (a.u.)</text>
<text x="265.20" y="403.80" font-size="11.8" fill="#30303c" textLength="12.60" lengthAdjust="spacingAndGlyphs">(<tspan font-size="10.4">e</tspan>)</text>
<rect x="342.4" y="413.7" width="47.2" height="8.8" fill="#fff" stroke="#444" stroke-width="1.1"/>
<line x1="343.00" y1="417.90" x2="358.10" y2="417.90" stroke="#1a1aff" stroke-width="1.6"/>
<text x="359.20" y="420.10" font-size="5.9" text-anchor="start" font-weight="normal" fill="#333" stroke="#333" stroke-width="0.25" textLength="28.60" lengthAdjust="spacing">N1s Scan</text>
<polyline points="255.60,491.60 255.83,493.01 256.05,494.59 256.28,495.95 256.61,497.67 256.95,498.90 257.40,500.23 258.02,501.65 258.77,502.82 259.57,503.78 260.73,505.08 262.05,506.01 263.18,506.76 264.39,507.12 265.65,507.63 266.99,508.23 268.30,508.36 269.91,508.50 271.50,508.69 273.15,508.61 274.80,508.29 276.40,508.00 278.00,507.45 279.25,506.78 280.50,506.32 281.68,505.43 282.79,504.64 283.85,503.61 284.89,502.60 285.90,501.69 286.80,500.27 287.55,499.12 288.19,497.53 288.80,495.98 289.38,494.31 289.74,492.99 290.10,491.48 290.46,490.21 290.82,488.72 291.17,487.02 291.50,485.38 291.79,484.12 292.05,482.58 292.33,480.76 292.70,478.49 292.93,476.93 293.18,475.45 293.46,473.56 293.74,471.52 294.04,469.71 294.33,467.40 294.62,465.31 294.90,463.06 295.17,461.00 295.43,458.39 295.69,455.98 295.95,453.28 296.21,450.82 296.47,448.35 296.73,445.88 297.00,443.59 297.28,441.42 297.57,439.25 297.87,437.20 298.16,435.03 298.45,433.22 298.73,431.35 298.98,429.89 299.20,428.43 299.55,425.83 299.82,424.16 300.05,422.94 300.30,421.52 300.57,419.92 300.84,418.80 301.25,417.08 301.71,415.37 302.19,414.03 302.88,412.71 303.84,411.61 305.12,412.04 305.78,413.32 306.27,414.72 306.69,416.52 307.00,417.85 307.31,419.32 307.60,420.97 307.84,422.28 308.04,423.72 308.27,425.71 308.60,428.33 308.82,430.09 309.07,432.43 309.34,434.64 309.63,437.17 309.92,439.77 310.22,442.53 310.52,445.26 310.80,447.92 311.08,450.81 311.37,453.48 311.67,456.41 311.96,459.46 312.25,462.43 312.52,464.98 312.77,467.65 313.00,469.76 313.20,471.75 313.38,473.46 313.54,475.07 313.68,476.36 313.94,478.70 314.20,481.10 314.43,483.08 314.64,484.91 314.85,486.83 315.10,488.61 315.41,490.91 315.76,493.16 316.13,495.64 316.50,497.53 316.84,498.98 317.18,500.45 317.76,501.95 318.55,503.55 319.52,505.05 320.50,506.18 321.74,506.97 323.00,507.46 324.34,507.68 325.70,507.83 327.01,507.46 328.30,506.81 329.73,505.98 330.90,505.39 332.01,504.49 333.33,503.63 334.73,502.72 336.10,501.79 337.45,501.09 338.83,500.40 340.17,499.95 341.40,499.19 343.05,498.54 344.50,497.70 345.91,497.14 347.20,496.55 348.70,496.06 350.21,496.49 351.44,497.12 352.63,498.21 353.57,499.10 354.52,500.38 355.49,501.51 356.50,502.75 357.50,504.23 358.25,505.34 359.00,506.17 359.97,507.63 361.00,508.83 362.21,509.62 363.50,510.28 364.60,511.34 366.20,511.88 368.18,512.31 369.80,512.38 371.67,512.45 373.77,512.58 376.00,512.40 378.52,512.69 379.93,512.58 381.49,512.56 383.20,512.66 385.16,512.76 387.38,512.62 389.78,512.78 392.27,512.91 394.78,512.85 397.21,512.88 399.47,512.83 401.50,513.04 403.36,512.83 405.16,512.95 406.89,512.92 408.49,512.71 409.96,512.99 412.34,512.73 413.20,512.80" fill="none" stroke="#1f1fff" stroke-width="1.6" stroke-linejoin="round" stroke-linecap="round"/>
</svg>
</body></html>
